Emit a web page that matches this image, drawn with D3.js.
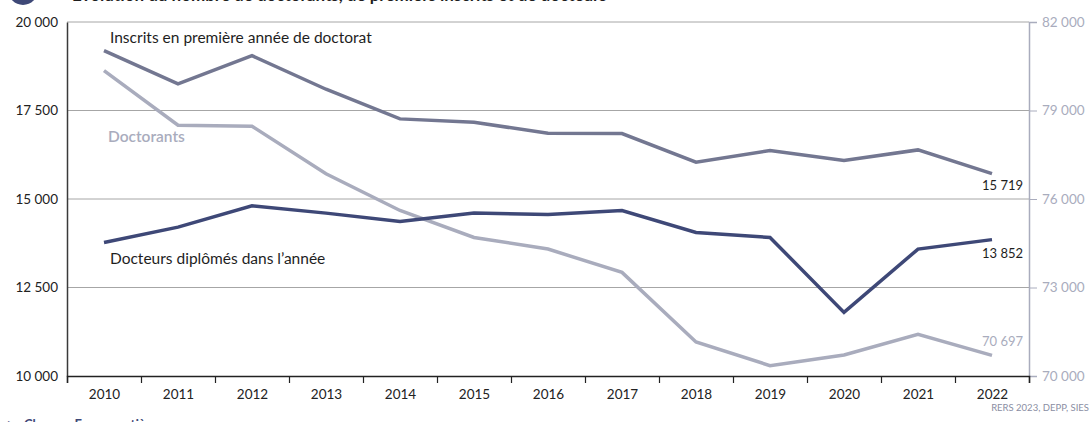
<!DOCTYPE html>
<html><head><meta charset="utf-8">
<script src="https://cdn.jsdelivr.net/npm/d3@7"></script>
<style>
body{margin:0;background:#fff;}
svg{display:block;font-family:Lato, "Open Sans", sans-serif;}
</style></head>
<body><svg id="c" width="1092" height="422"></svg>
<script>
const years = [2010,2011,2012,2013,2014,2015,2016,2017,2018,2019,2020,2021,2022];
const inscrits = [19190,18251,19049,18101,17263,17168,16857,16848,16041,16368,16086,16387,15719];
const docteurs = [13772,14206,14807,14601,14365,14601,14563,14676,14055,13914,11797,13585,13852];
const doctorants = [80351,78502,78468,76853,75611,74697,74303,73512,71155,70352,70714,71412,70697];
const leftTicks = [10000,12500,15000,17500,20000];
const rightTicks = [70000,73000,76000,79000,82000];
const title = "Évolution du nombre de doctorants, de premiers inscrits et de docteurs";
const labels = {inscrits:"Inscrits en première année de doctorat", doctorants:"Doctorants", docteurs:"Docteurs diplômés dans l’année"};
const note = "Champ : France entière.";
const source = "RERS 2023, DEPP, SIES";

const C_INS="#737791", C_DOC="#3e4877", C_DOCT="#a9acbd", C_GRID="#a6a6a6";
const fmt = v => d3.format(",")(v).replace(/,/g," ");
const svg = d3.select("#c");
const L=67,R=1029,T=22,B=376;
const x = d3.scaleLinear().domain([2009.5,2022.5]).range([L,R]);
const yL = d3.scaleLinear().domain([10000,20000]).range([B,T]);
const yR = d3.scaleLinear().domain([70000,82000]).range([B,T]);

// title (cut at the top edge as in the reference)
svg.append("circle").attr("cx",23).attr("cy",-10).attr("r",15).attr("fill",C_DOC);
svg.append("text").attr("x",72).attr("y",1).attr("font-size",17).attr("font-weight",700).attr("fill","#1e1e1e").text(title);

// gridlines
svg.append("g").selectAll("line").data(leftTicks.filter(d=>d>10000)).join("line")
  .attr("x1",L).attr("x2",R).attr("y1",d=>yL(d)).attr("y2",d=>yL(d))
  .attr("stroke",C_GRID).attr("stroke-width",1);

// left axis
const gl = svg.append("g").attr("transform",`translate(${L},0)`)
  .call(d3.axisLeft(yL).tickValues(leftTicks).tickSize(0).tickPadding(9).tickFormat(fmt));
gl.select(".domain").attr("stroke","#3a3a3a").attr("stroke-width",1.5);
gl.selectAll("text").attr("font-size",13.5).attr("fill","#222").attr("font-family","Lato, sans-serif");

// right axis
const gr = svg.append("g").attr("transform",`translate(${R},0)`)
  .call(d3.axisRight(yR).tickValues(rightTicks).tickSize(8).tickPadding(5).tickFormat(fmt));
gr.select(".domain").attr("stroke",C_DOCT).attr("stroke-width",1.5);
gr.selectAll(".tick line").attr("stroke",C_DOCT);
gr.selectAll("text").attr("font-size",13.5).attr("fill",C_DOCT).attr("font-family","Lato, sans-serif");

// bottom axis: ticks at boundaries, labels at centers
const gb = svg.append("g").attr("transform",`translate(0,${B})`)
  .call(d3.axisBottom(x).tickValues(d3.range(2009.5,2023,1)).tickSize(7).tickFormat(""));
gb.select(".domain").attr("stroke","#222").attr("stroke-width",1.5);
gb.selectAll(".tick line").attr("stroke","#222").attr("stroke-width",1.2);
const gb2 = svg.append("g").attr("transform",`translate(0,${B})`)
  .call(d3.axisBottom(x).tickValues(years).tickSize(0).tickPadding(13).tickFormat(d3.format("d")));
gb2.select(".domain").remove();
gb2.selectAll("text").attr("font-size",13.5).attr("fill","#222").attr("font-family","Lato, sans-serif");

// lines
const lineL = d3.line().x((d,i)=>x(years[i])).y(d=>yL(d));
const lineR = d3.line().x((d,i)=>x(years[i])).y(d=>yR(d));
svg.append("path").datum(doctorants).attr("d",lineR).attr("fill","none").attr("stroke",C_DOCT).attr("stroke-width",3.5);
svg.append("path").datum(inscrits).attr("d",lineL).attr("fill","none").attr("stroke",C_INS).attr("stroke-width",3.5);
svg.append("path").datum(docteurs).attr("d",lineL).attr("fill","none").attr("stroke",C_DOC).attr("stroke-width",3.5);

// series labels
svg.append("text").attr("x",110).attr("y",43).attr("font-size",15.5).attr("fill","#1e1e1e").text(labels.inscrits);
svg.append("text").attr("x",108).attr("y",142).attr("font-size",15.5).attr("font-weight",600).attr("fill",C_DOCT).text(labels.doctorants);
svg.append("text").attr("x",110).attr("y",264).attr("font-size",15.5).attr("fill","#1e1e1e").text(labels.docteurs);

// end labels
const last = years.length-1;
svg.append("text").attr("x",1023).attr("y",yL(inscrits[last])+16).attr("text-anchor","end").attr("font-size",13).attr("fill","#1e1e1e").text(fmt(inscrits[last]));
svg.append("text").attr("x",1023).attr("y",yL(docteurs[last])+18).attr("text-anchor","end").attr("font-size",13).attr("fill","#1e1e1e").text(fmt(docteurs[last]));
svg.append("text").attr("x",1023).attr("y",yR(doctorants[last])-9).attr("text-anchor","end").attr("font-size",13).attr("fill",C_DOCT).text(fmt(doctorants[last]));

// footer
svg.append("text").attr("x",8).attr("y",428).attr("font-size",11).attr("fill",C_DOC).text("▶");
svg.append("text").attr("x",24).attr("y",429).attr("font-size",13).attr("font-weight",700).attr("fill",C_DOC).attr("font-family","Lato, sans-serif").text(note);
svg.append("text").attr("x",1089).attr("y",411).attr("text-anchor","end").attr("font-size",9.5).attr("fill","#8a8ea3").text(source);
</script></body></html>
